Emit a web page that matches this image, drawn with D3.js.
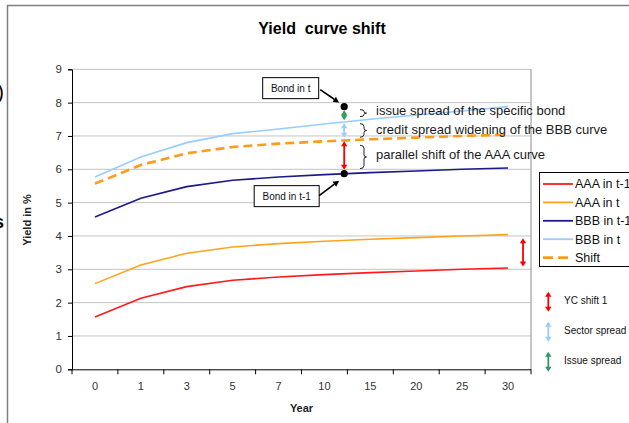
<!DOCTYPE html>
<html>
<head>
<meta charset="utf-8">
<script src="https://cdn.jsdelivr.net/npm/d3@7"></script>
<style>
  html, body { margin: 0; padding: 0; background: #fff; overflow: hidden; }
  svg { display: block; font-family: Arial, "Liberation Sans", sans-serif; }
</style>
</head>
<body>
<svg id="chart" width="629" height="423"></svg>
<script>
// Maturities (years) and yields in %
const years = ["0", "1", "3", "5", "7", "10", "15", "20", "25", "30"];
const aaaPrev = [1.57, 2.13, 2.48, 2.67, 2.77, 2.84, 2.90, 2.95, 3.00, 3.04];
const aaaNow  = [2.57, 3.13, 3.48, 3.67, 3.77, 3.84, 3.90, 3.95, 4.00, 4.04];
const bbbPrev = [4.57, 5.13, 5.48, 5.67, 5.77, 5.84, 5.90, 5.95, 6.00, 6.04];
const bbbNow  = [5.77, 6.37, 6.80, 7.07, 7.21, 7.36, 7.50, 7.63, 7.75, 7.88];
const shifted = [5.57, 6.13, 6.48, 6.67, 6.77, 6.84, 6.90, 6.95, 7.00, 7.04];
const yTicks = [0, 1, 2, 3, 4, 5, 6, 7, 8, 9];

// Bond decomposition: yield levels of the bond (t-1), shifted AAA, BBB in t, bond in t
const bondBetween = ["10", "15"];
const bondFraction = 0.43;
const bondLevels = [5.87, 6.87, 7.43, 7.88];
const spreadNotes = [
  "parallel shift of the AAA curve",
  "credit spread widening of the BBB curve",
  "issue spread of the specific bond"
];

const series = [
  { name: "AAA in t-1", values: aaaPrev, color: "#ff1a1a", dash: null, width: 1.6 },
  { name: "AAA in t",   values: aaaNow,  color: "#ffa31a", dash: null, width: 1.6 },
  { name: "BBB in t-1", values: bbbPrev, color: "#1a1a8c", dash: null, width: 1.6 },
  { name: "BBB in t",   values: bbbNow,  color: "#99ccff", dash: null, width: 1.6 },
  { name: "Shift",      values: shifted, color: "#ff9a1a", dash: "9,5", width: 2.6 }
];
const arrowItems = [
  { name: "YC shift 1",    color: "#ff0000" },
  { name: "Sector spread", color: "#99ccff" },
  { name: "Issue spread",  color: "#2e9960" }
];

const svg = d3.select("#chart");

// Outer frame (top and left edges)
svg.append("path")
  .attr("d", "M7.5,440 L7.5,5.5 L640,5.5")
  .attr("fill", "none").attr("stroke", "#7f7f7f").attr("stroke-width", 1.5);

// Text fragments at the left margin
svg.append("text").attr("x", 4).attr("y", 99).attr("text-anchor", "end")
  .attr("font-size", 20).attr("fill", "#000").text(")");
svg.append("text").attr("x", 4).attr("y", 228).attr("text-anchor", "end")
  .attr("font-size", 18).attr("font-weight", "bold").attr("fill", "#000").text("s");

const plotLeft = 72, plotRight = 531, plotTop = 69.3, plotBottom = 369.3;
const x = d3.scaleBand().domain(years).range([plotLeft, plotRight]).padding(0);
const y = d3.scaleLinear().domain([0, 9]).range([plotBottom, plotTop]);
const cx = d => x(d) + x.bandwidth() / 2;

// Title
svg.append("text").attr("x", 322).attr("y", 34).attr("text-anchor", "middle")
  .style("white-space", "pre")
  .attr("font-size", 16).attr("font-weight", "bold").attr("fill", "#000")
  .text("Yield  curve shift");

// Gridlines
svg.append("g").selectAll("line").data(yTicks.filter(v => v > 0)).join("line")
  .attr("x1", plotLeft).attr("x2", plotRight)
  .attr("y1", d => y(d)).attr("y2", d => y(d))
  .attr("stroke", "#c4c4c4").attr("stroke-width", 1);

// Plot area right border
svg.append("line").attr("x1", plotRight).attr("x2", plotRight).attr("y1", plotTop).attr("y2", plotBottom)
  .attr("stroke", "#a0a0a0").attr("stroke-width", 1.2);

// Y axis
const yAxis = svg.append("g").attr("transform", `translate(${plotLeft},0)`)
  .call(d3.axisLeft(y).tickValues(yTicks).tickSize(4).tickPadding(6).tickFormat(d3.format("d")));
yAxis.select(".domain").attr("stroke", "#000");
yAxis.selectAll(".tick line").attr("stroke", "#000");
yAxis.selectAll("text").attr("font-size", 11.5).attr("fill", "#333")
  .attr("font-family", "Arial, 'Liberation Sans', sans-serif");

// X axis: labels centred in bands, tick marks at band edges
const xAxis = svg.append("g").attr("transform", `translate(0,${plotBottom})`)
  .call(d3.axisBottom(x).tickSize(0).tickPadding(13));
xAxis.select(".domain").attr("stroke", "#000").attr("d", `M${plotLeft},0.5H${plotRight}`);
xAxis.selectAll("text").attr("font-size", 11).attr("fill", "#333")
  .attr("font-family", "Arial, 'Liberation Sans', sans-serif");
const edges = d3.range(years.length + 1).map(i => plotLeft + i * x.step());
xAxis.selectAll(".edge").data(edges).join("line").attr("class", "edge")
  .attr("x1", d => d).attr("x2", d => d).attr("y1", 0).attr("y2", 5)
  .attr("stroke", "#000");

// Axis titles
svg.append("text").attr("x", (plotLeft + plotRight) / 2).attr("y", 412).attr("text-anchor", "middle")
  .attr("font-size", 11).attr("font-weight", "bold").attr("fill", "#222").text("Year");
svg.append("text").attr("transform", "translate(31,220) rotate(-90)").attr("text-anchor", "middle")
  .attr("font-size", 11).attr("font-weight", "bold").attr("fill", "#222").text("Yield in %");

// Curves
const line = d3.line().x((d, i) => cx(years[i])).y(d => y(d));
svg.append("g").selectAll("path").data(series).join("path")
  .attr("d", s => line(s.values))
  .attr("fill", "none")
  .attr("stroke", s => s.color)
  .attr("stroke-width", s => s.width)
  .attr("stroke-dasharray", s => s.dash);

// Double-headed vertical arrow
function doubleArrow(g, xp, y1, y2, color) {
  const h = 5, w = 3.2;
  const t = Math.min(y1, y2), b = Math.max(y1, y2);
  g.append("line").attr("x1", xp).attr("x2", xp).attr("y1", t + h - 1).attr("y2", b - h + 1)
    .attr("stroke", color).attr("stroke-width", 1.8);
  g.append("path").attr("d", `M${xp},${t}L${xp - w},${t + h}L${xp + w},${t + h}Z`).attr("fill", color);
  g.append("path").attr("d", `M${xp},${b}L${xp - w},${b - h}L${xp + w},${b - h}Z`).attr("fill", color);
}

// Arrow between the two AAA curves at the long end
const gAnn = svg.append("g");
doubleArrow(gAnn, plotRight - 8, y(aaaNow[aaaNow.length - 1]) + 3.5, y(aaaPrev[aaaPrev.length - 1]) - 1.5, "#ff0000");

// Bond position along the maturity axis
const bx = cx(bondBetween[0]) + bondFraction * (cx(bondBetween[1]) - cx(bondBetween[0]));

// Decomposition arrows
const segColors = ["#ff0000", "#99ccff", "#2e9960"];
const insets = [[4, 1], [2.5, 1.5], [1.5, 3.5]];
for (let i = 0; i < 3; i++) {
  doubleArrow(gAnn, bx, y(bondLevels[i]) - insets[i][0], y(bondLevels[i + 1]) + insets[i][1], segColors[i]);
}

// Bond dots
gAnn.selectAll("circle").data([bondLevels[0], bondLevels[3]]).join("circle")
  .attr("cx", bx).attr("cy", d => y(d)).attr("r", 3.6).attr("fill", "#000");

// Curly braces and notes
function brace(g, xp, y1, y2) {
  const m = (y1 + y2) / 2, w = 4;
  const r = Math.min(3, (y2 - y1) / 4);
  g.append("path")
    .attr("d", `M${xp},${y1} Q${xp + w},${y1} ${xp + w},${y1 + r} L${xp + w},${m - r * 0.7} Q${xp + w},${m} ${xp + w + 2.5},${m}` +
               ` Q${xp + w},${m} ${xp + w},${m + r * 0.7} L${xp + w},${y2 - r} Q${xp + w},${y2} ${xp},${y2}`)
    .attr("fill", "none").attr("stroke", "#222").attr("stroke-width", 1);
}
const braceX = 360;
// [inset below upper level, inset above lower level]
const braceInsets = [[5, 5], [2, 3], [3, 5]];
for (let i = 0; i < 3; i++) {
  brace(gAnn, braceX, y(bondLevels[i + 1]) + braceInsets[i][0], y(bondLevels[i]) - braceInsets[i][1]);
}
const noteY = [154, 129, 110.7];
spreadNotes.forEach((t, i) => {
  gAnn.append("text").attr("x", 376).attr("y", noteY[i]).attr("dy", "0.35em")
    .attr("font-size", 13).attr("fill", "#1a1a1a").text(t);
});

// Callout boxes with arrows
function callout(g, label, bx0, by0, w, h, ax1, ay1, ax2, ay2) {
  g.append("rect").attr("x", bx0).attr("y", by0).attr("width", w).attr("height", h)
    .attr("fill", "#fff").attr("stroke", "#000").attr("stroke-width", 1);
  g.append("text").attr("x", bx0 + w / 2).attr("y", by0 + h / 2).attr("dy", "0.35em")
    .attr("text-anchor", "middle").attr("font-size", 10).attr("fill", "#111").text(label);
  const ang = Math.atan2(ay2 - ay1, ax2 - ax1), L = 6, W = 3;
  const bxp = ax2 - L * Math.cos(ang), byp = ay2 - L * Math.sin(ang);
  g.append("line").attr("x1", ax1).attr("y1", ay1).attr("x2", bxp).attr("y2", byp)
    .attr("stroke", "#000").attr("stroke-width", 1.6);
  g.append("path").attr("d",
    `M${ax2},${ay2}L${bxp - W * Math.sin(ang)},${byp + W * Math.cos(ang)}L${bxp + W * Math.sin(ang)},${byp - W * Math.cos(ang)}Z`)
    .attr("fill", "#000");
}
const yNow = y(bondLevels[3]), yPrev = y(bondLevels[0]);
callout(gAnn, "Bond in t", bx - 81.5, yNow - 29, 56, 21, bx - 24, yNow - 17, bx - 5, yNow - 4);
callout(gAnn, "Bond in t-1", bx - 90, yPrev + 12, 65, 21, bx - 25, yPrev + 22, bx - 5, yPrev + 7);

// Legend
const lg = svg.append("g");
lg.append("rect").attr("x", 539.5).attr("y", 172.5).attr("width", 120).attr("height", 94)
  .attr("fill", "#fff").attr("stroke", "#000").attr("stroke-width", 1);
const rowY = i => 184 + i * 18.4;
lg.selectAll(".ll").data(series).join("line").attr("class", "ll")
  .attr("x1", 543).attr("x2", 573).attr("y1", (d, i) => rowY(i)).attr("y2", (d, i) => rowY(i))
  .attr("stroke", d => d.color).attr("stroke-width", d => d.dash ? 2.6 : 1.8)
  .attr("stroke-dasharray", d => d.dash ? "10,5" : null);
lg.selectAll(".lt").data(series).join("text").attr("class", "lt")
  .attr("x", 575).attr("y", (d, i) => rowY(i)).attr("dy", "0.35em")
  .attr("font-size", 12.5).attr("fill", "#111").text(d => d.name);

// Arrow key below the legend
arrowItems.forEach((a, i) => {
  const yc = 301.7 + i * 30;
  doubleArrow(lg, 548.3, yc - 10, yc + 10, a.color);
  lg.append("text").attr("x", 564).attr("y", yc - 1).attr("dy", "0.35em")
    .attr("font-size", 10).attr("fill", "#111").text(a.name);
});
</script>
</body>
</html>
